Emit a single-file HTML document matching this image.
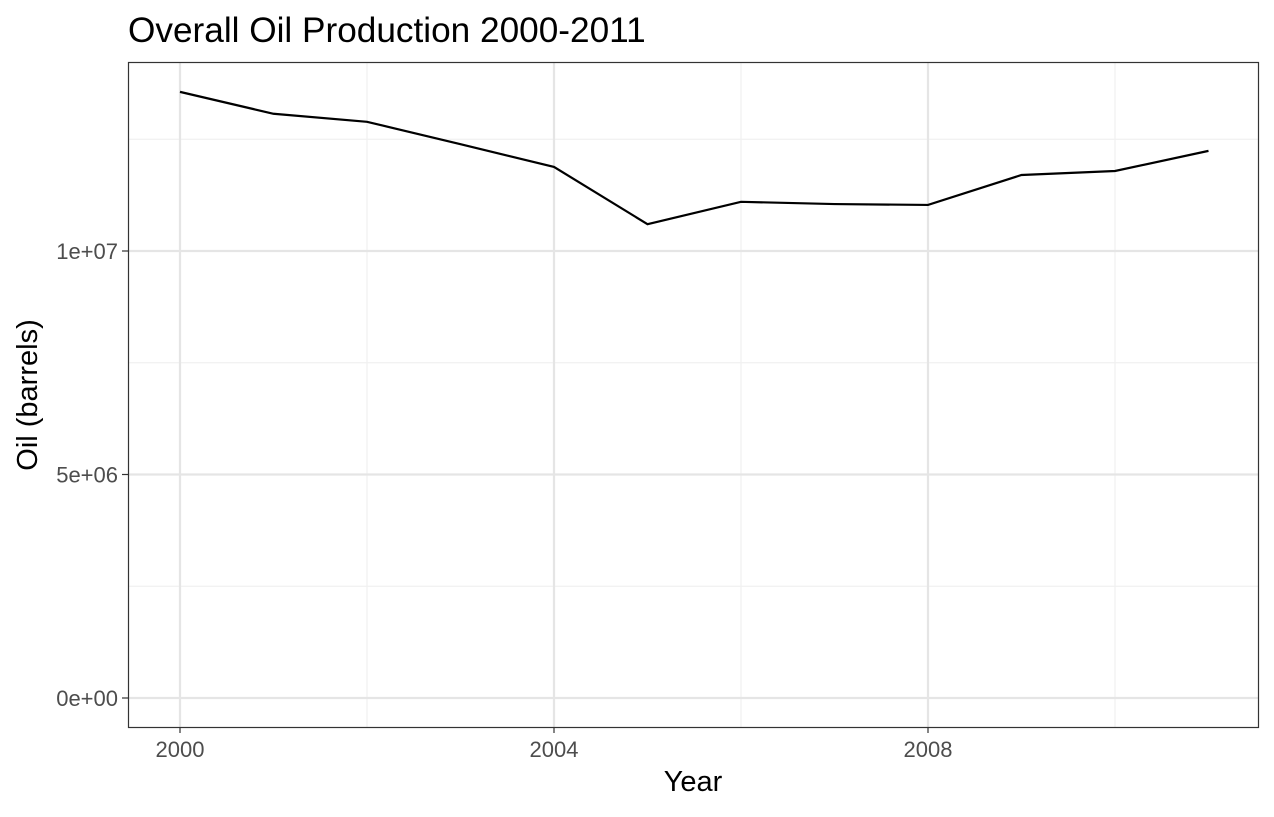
<!DOCTYPE html>
<html><head><meta charset="utf-8"><style>
body{margin:0;background:#fff;font-family:"Liberation Sans",sans-serif}
</style></head><body>
<svg id="chart" width="1274" height="812" xmlns="http://www.w3.org/2000/svg">
<text x="128" y="42" font-size="35.2" fill="#000">Overall Oil Production 2000-2011</text>
<g id="grid"></g>
<g id="axes"></g>
<path id="line" fill="none" stroke="#000" stroke-width="2.2"/>
<rect x="128.5" y="62.5" width="1130" height="665" fill="none" stroke="#333" stroke-width="1.2"/>
<text x="693" y="791" font-size="29" text-anchor="middle" fill="#000">Year</text>
<text transform="translate(37,395) rotate(-90)" font-size="29" text-anchor="middle" fill="#000">Oil (barrels)</text>
</svg>
<script>
const years=[2000,2001,2002,2003,2004,2005,2006,2007,2008,2009,2010,2011];
const oil=[13.56e6,13.07e6,12.89e6,12.39e6,11.88e6,10.60e6,11.10e6,11.05e6,11.03e6,11.70e6,11.79e6,12.24e6];
const xTicks=[2000,2004,2008];
const xTickLabels=["2000","2004","2008"];
const xMinor=[2002,2006,2010];
const yTicks=[0,5e6,1e7];
const yTickLabels=["0e+00","5e+06","1e+07"];
const yMinor=[2.5e6,7.5e6,12.5e6];
const X=v=>180+(v-2000)*93.5;
const Y=v=>698-v*44.7e-6;
const ns="http://www.w3.org/2000/svg";
const grid=document.getElementById('grid'),axes=document.getElementById('axes');
function ln(p,x1,y1,x2,y2,c,w,name){const l=document.createElementNS(ns,'line');
l.setAttribute('x1',x1);l.setAttribute('y1',y1);l.setAttribute('x2',x2);l.setAttribute('y2',y2);
l.setAttribute('stroke',c);l.setAttribute('stroke-width',w);


p.appendChild(l);}
function tx(p,x,y,s,anchor,name){const t=document.createElementNS(ns,'text');
t.setAttribute('x',x);t.setAttribute('y',y);t.setAttribute('font-size','22');t.setAttribute('fill','#4d4d4d');t.setAttribute('text-anchor',anchor);t.textContent=s;


p.appendChild(t);}
xMinor.forEach(v=>ln(grid,X(v),62,X(v),727,'#f0f0f0',1.2,'x-minor-gridline'));
yMinor.forEach(v=>ln(grid,128,Y(v),1258,Y(v),'#f0f0f0',1.2,'y-minor-gridline'));
xTicks.forEach((v,i)=>{ln(grid,X(v),62,X(v),727,'#e5e5e5',2.2,'x-major-gridline');
ln(axes,X(v),727,X(v),733,'#333',1.2,'x-tick');tx(axes,X(v),757,xTickLabels[i],'middle','x-tick-label');});
yTicks.forEach((v,i)=>{ln(grid,128,Y(v),1258,Y(v),'#e5e5e5',2.2,'y-major-gridline');
ln(axes,122,Y(v),128,Y(v),'#333',1.2,'y-tick');tx(axes,118,Y(v)+8,yTickLabels[i],'end','y-tick-label');});
document.getElementById('line').setAttribute('d',years.map((y,i)=>(i?'L':'M')+X(y)+','+Y(oil[i])).join(' '));
</script>
</body></html>
